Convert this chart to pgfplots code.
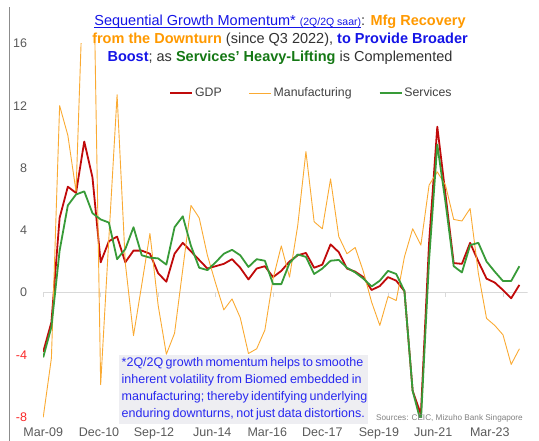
\documentclass[border=0pt]{standalone}
\usepackage{pgfplots}
\pgfplotsset{compat=1.18}
\usepackage{pgfplotstable}
\usepackage{fontspec}
\setmainfont{Liberation Sans}
\definecolor{gdpred}{RGB}{192,10,10}
\definecolor{mfgorange}{RGB}{250,170,50}
\definecolor{svcgreen}{RGB}{56,155,56}
\definecolor{tblue}{RGB}{20,20,230}
\definecolor{torange}{RGB}{255,153,0}
\definecolor{tgreen}{RGB}{20,120,20}
\definecolor{tgray}{RGB}{50,50,50}
\definecolor{annoblue}{RGB}{40,40,240}
\definecolor{boxgray}{RGB}{238,238,242}
\definecolor{tickgray}{RGB}{89,89,89}
\definecolor{legendgray}{RGB}{64,64,64}
\definecolor{negred}{RGB}{250,40,40}
\definecolor{zeroline}{RGB}{217,217,217}
\newcommand{\ul}[1]{\setbox0=\hbox{#1}\rlap{\rule[-1.7pt]{\wd0}{0.7pt}}\box0}

\pgfplotstableread{
i gdp mfg svc
0 -3.8 -8.0 -4.15
1 -1.9 -4.2 -2.2
2 4.8 12.0 2.7
3 6.8 10.1 5.6
4 6.4 6.5 6.3
5 9.7 22.0 6.5
6 7.4 25.4 5.1
7 1.95 -5.9 4.7
8 3.3 3.5 4.5
9 3.6 12.7 2.15
10 1.95 1.9 2.8
11 2.7 -2.75 4.2
12 2.7 0.5 2.4
13 2.5 3.8 2.25
14 1.25 -0.8 2.2
15 0.7 -3.95 1.8
16 2.5 -2.6 4.2
17 3.2 1.5 4.9
18 2.65 5.6 3.0
19 2.1 4.8 1.6
20 1.55 2.4 1.45
21 1.7 0.6 1.95
22 1.85 -1.1 2.5
23 2.15 -0.4 2.75
24 1.6 -1.6 2.4
25 0.85 -3.9 1.65
26 1.55 -3.6 2.15
27 1.7 -2.4 2.05
28 1.0 0.9 0.55
29 1.4 3.0 0.55
30 2.0 1.0 1.9
31 2.4 4.3 2.45
32 2.55 9.05 2.3
33 1.6 4.55 1.2
34 1.8 4.1 1.55
35 3.1 7.3 2.05
36 2.6 3.6 2.1
37 1.55 2.5 1.6
38 1.35 2.9 1.3
39 1.0 1.35 0.9
40 0.17 -0.6 0.4
41 0.43 -2.1 0.77
42 1.0 -0.25 1.4
43 0.77 -0.5 1.2
44 0.1 2.3 0.1
45 -6.3 4.1 -6.3
46 -7.8 3.05 -8.3
47 3.2 6.9 2.1
48 10.65 7.75 9.5
49 6.3 6.9 5.8
50 1.9 4.7 1.7
51 1.85 4.6 1.3
52 3.2 5.4 3.05
53 2.0 1.25 3.2
54 0.9 -1.65 2.0
55 0.65 -2.1 1.35
56 0.17 -2.7 0.75
57 -0.36 -4.6 0.75
58 0.5 -3.6 1.7
}\datatable

\begin{document}
\begin{tikzpicture}
\useasboundingbox (0,0) rectangle (539pt,441pt);
\draw[color=black!45, line width=0.7pt] (9.5pt,0pt) -- (9.5pt,434pt);
\fill[boxgray] (119pt,17pt) rectangle (368pt,86pt);
\begin{axis}[
  at={(43.2pt,23.6pt)}, anchor=south west,
  scale only axis, width=484.4pt, height=374.1pt,
  xmin=0, xmax=59, ymin=-8, ymax=16,
  axis line style={draw=none},
  tick style={draw=none},
  major tick length=0pt,
  ytick={-8,-4,0,4,8,12,16},
  yticklabels={\textcolor{negred}{-8},\textcolor{negred}{-4},0,4,8,12,16},
  yticklabel style={anchor=east, inner sep=0pt, xshift=-16pt, text=tickgray, font=\fontsize{12.5}{14}\selectfont},
  xtick={0,6.8,13.5,20.6,27.3,34.0,40.9,47.5,54.4},
  xticklabels={Mar-09,Dec-10,Sep-12,Jun-14,Mar-16,Dec-17,Sep-19,Jun-21,Mar-23},
  xticklabel style={anchor=north, inner sep=0pt, yshift=-10.6pt, text=tickgray, font=\fontsize{12.5}{14}\selectfont},
  legend columns=3,
  legend image code/.code={\draw[#1] (0pt,0pt) -- (22pt,0pt);},
  legend style={at={(axis description cs:0.2600,0.8670)}, anchor=west, draw=none, fill=none,
    inner sep=0pt, font=\fontsize{12.3}{14}\selectfont, text=legendgray,
    /tikz/every even column/.append style={column sep=25pt}},
]
\draw[zeroline, line width=1.3pt] (axis cs:0,0) -- (axis cs:59,0);
\pgfplotsinvokeforeach{0,7,14,21,28,35,42,49,56}{\draw[zeroline, line width=0.8pt] (axis cs:#1,0) -- ++(0pt,-4pt);}
\addplot[gdpred, line width=1.8pt, line join=round] table[x=i, y=gdp] {\datatable};
\addlegendentry{GDP}
\addplot[mfgorange, line width=0.9pt, line join=round] table[x=i, y=mfg] {\datatable};
\addlegendentry{Manufacturing}
\addplot[svcgreen, line width=1.8pt, line join=round] table[x=i, y=svc] {\datatable};
\addlegendentry{Services}
\end{axis}
% title
\node[anchor=base, inner sep=0pt, font=\fontsize{14.5}{18}\selectfont] at (280pt,415pt)
  {\textcolor{tblue}{\ul{Sequential Growth Momentum* {\fontsize{10.5}{12}\selectfont(2Q/2Q saar)}}}\textcolor{tgray}{: }\textcolor{torange}{\bfseries Mfg Recovery}};
\node[anchor=base, inner sep=0pt, font=\fontsize{14.5}{18}\selectfont] at (280pt,397.5pt)
  {\textcolor{torange}{\bfseries from the Downturn} \textcolor{tgray}{(since Q3 2022),} \textcolor{tblue}{\bfseries to Provide Broader}};
\node[anchor=base, inner sep=0pt, font=\fontsize{14.5}{18}\selectfont] at (280pt,379.5pt)
  {\textcolor{tblue}{\bfseries Boost}\textcolor{tgray}{; as }\textcolor{tgreen}{\bfseries Services' Heavy-Lifting} \textcolor{tgray}{is Complemented}};
% annotation
\begin{scope}[every node/.style={anchor=base west, inner sep=0pt, text=annoblue, font=\fontsize{12.5}{15}\selectfont}]
\node at (121.5pt,74pt) {\makebox[240pt][s]{*2Q/2Q growth momentum helps to smoothe}};
\node at (121.5pt,57pt) {\makebox[240pt][s]{inherent volatility from Biomed embedded in}};
\node at (121.5pt,40pt) {\makebox[240pt][s]{manufacturing; thereby identifying underlying}};
\node at (121.5pt,23pt) {\makebox[240pt][s]{enduring downturns, not just data distortions.}};
\end{scope}
\node[anchor=base west, inner sep=0pt, text=black!50, font=\fontsize{8.2}{10}\selectfont] at (376pt,20pt) {Sources: CEIC,\ Mizuho Bank Singapore};
\end{tikzpicture}
\end{document}
